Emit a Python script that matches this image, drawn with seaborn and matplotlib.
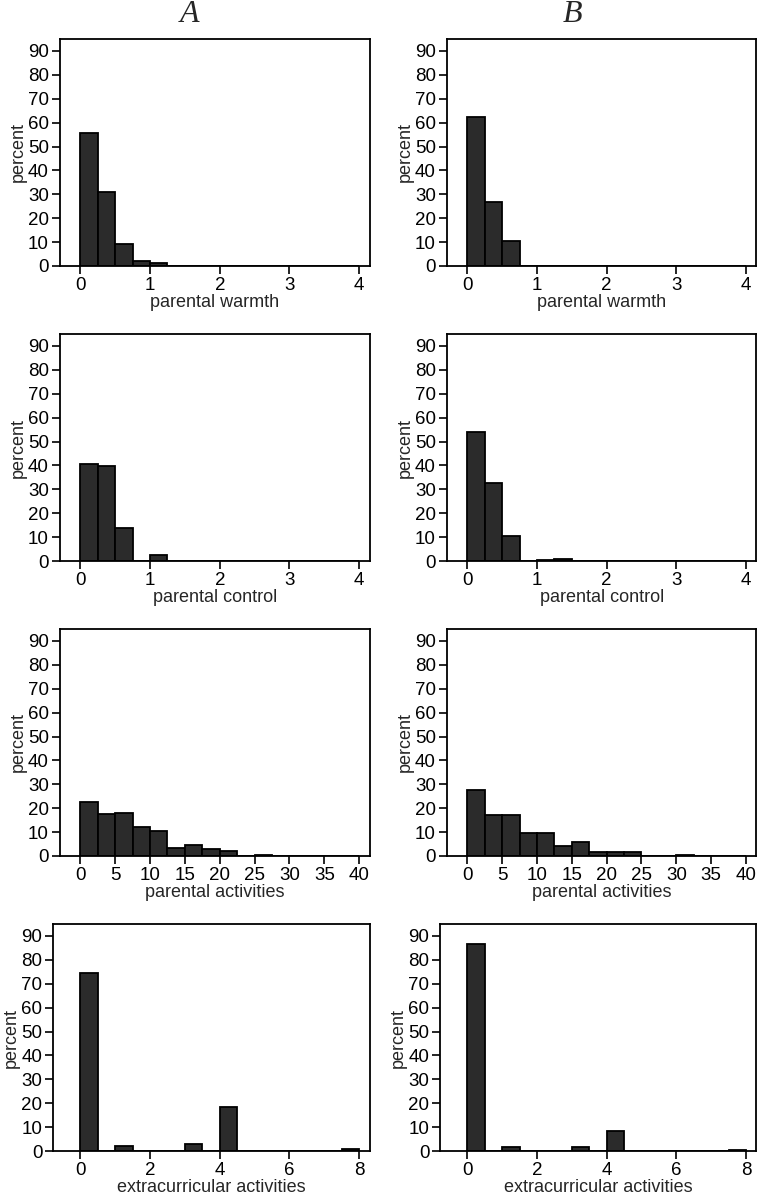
import numpy as np
import pandas as pd
import matplotlib
matplotlib.use("Agg")
import matplotlib.pyplot as plt
import seaborn as sns

# percent per bin
warmth_edges = list(np.arange(0, 4.01, 0.25))
warmth_A = [55.5, 31.0, 9.0, 2.2, 1.4, 0, 0, 0, 0, 0, 0, 0, 0, 0, 0, 0]
warmth_B = [62.3, 26.9, 10.6, 0, 0, 0, 0, 0, 0, 0, 0, 0, 0, 0, 0, 0]

control_edges = list(np.arange(0, 4.01, 0.25))
control_A = [40.8, 39.8, 14.0, 0, 2.4, 0, 0, 0.1, 0.1, 0.1, 0.1, 0.1, 0.1, 0.1, 0.1, 0.1]
control_B = [53.8, 32.5, 10.3, 0, 0.55, 0.85, 0, 0, 0, 0, 0, 0, 0, 0, 0, 0]

activ_edges = list(np.arange(0, 40.01, 2.5))
activ_A = [22.4, 17.7, 18.1, 12.1, 10.6, 3.5, 4.6, 3.1, 2.2, 0, 0.5, 0.1, 0.1, 0.1, 0.1, 0.1]
activ_B = [27.7, 17.0, 17.0, 9.6, 9.6, 4.2, 5.8, 1.5, 1.5, 1.8, 0, 0, 0.6, 0, 0, 0]

extra_edges = list(np.arange(0, 8.01, 0.5))
extra_A = [74.3, 0, 2.0, 0, 0, 0, 2.8, 0, 18.3, 0, 0, 0, 0, 0, 0, 1.0]
extra_B = [86.6, 0, 1.7, 0, 0, 0, 1.7, 0, 8.2, 0, 0, 0, 0, 0, 0, 0.5]

rows = [
    ("parental warmth", warmth_edges, warmth_A, warmth_B, [0, 1, 2, 3, 4], (-0.29, 4.15)),
    ("parental control", control_edges, control_A, control_B, [0, 1, 2, 3, 4], (-0.29, 4.15)),
    ("parental activities", activ_edges, activ_A, activ_B, list(range(0, 41, 5)), (-2.9, 41.5)),
    ("extracurricular activities", extra_edges, extra_A, extra_B, [0, 2, 4, 6, 8], (-0.77, 8.3)),
]

sns.set_style("white")
plt.rcParams['font.family'] = ['Liberation Sans', 'DejaVu Sans']

W, H = 761, 1200
fig = plt.figure(figsize=(W / 100, H / 100), dpi=100)

tops = [39, 334, 629, 924]
ax_h = 227

for r, (label, edges, va, vb, ticks, xlim) in enumerate(rows):
    for c, vals in enumerate([va, vb]):
        # pixel x of first and last tick in each column
        x0_px = 80.3 if c == 0 else 467.3
        x1_px = 359.2 if c == 0 else 746.0
        scale = (x1_px - x0_px) / (ticks[-1] - ticks[0])
        left_px = x0_px + (xlim[0] - ticks[0]) * scale
        right_px = x0_px + (xlim[1] - ticks[0]) * scale
        top = tops[r]
        ax = fig.add_axes([left_px / W, 1 - (top + ax_h) / H,
                           (right_px - left_px) / W, ax_h / H])
        centers = [(edges[i] + edges[i + 1]) / 2 for i in range(len(edges) - 1)]
        df = pd.DataFrame({"x": centers, "w": vals})
        sns.histplot(data=df, x="x", weights="w", bins=edges, ax=ax,
                     color="#2b2b2b", edgecolor="black", linewidth=1.3, alpha=1)
        ax.set_xlim(*xlim)
        ax.set_ylim(0, 95)
        ax.set_yticks(range(0, 91, 10))
        ax.set_xticks(ticks)
        ax.set_xlabel(label, fontsize=13, labelpad=0)
        ax.set_ylabel("percent", fontsize=13, labelpad=1)
        ax.tick_params(axis="both", direction="out", length=6, width=1.2,
                       labelsize=13.5, pad=2, left=True, bottom=True, colors="black")
        for s in ax.spines.values():
            s.set_linewidth(1.3)
            s.set_color("black")

fig.text(190 / W, 1 - 14 / H, "A", fontsize=23, style="italic", ha="center", va="center",
         family=["Liberation Serif", "DejaVu Serif"])
fig.text(572 / W, 1 - 14 / H, "B", fontsize=23, style="italic", ha="center", va="center",
         family=["Liberation Serif", "DejaVu Serif"])

fig.savefig("out.png", dpi=100)
